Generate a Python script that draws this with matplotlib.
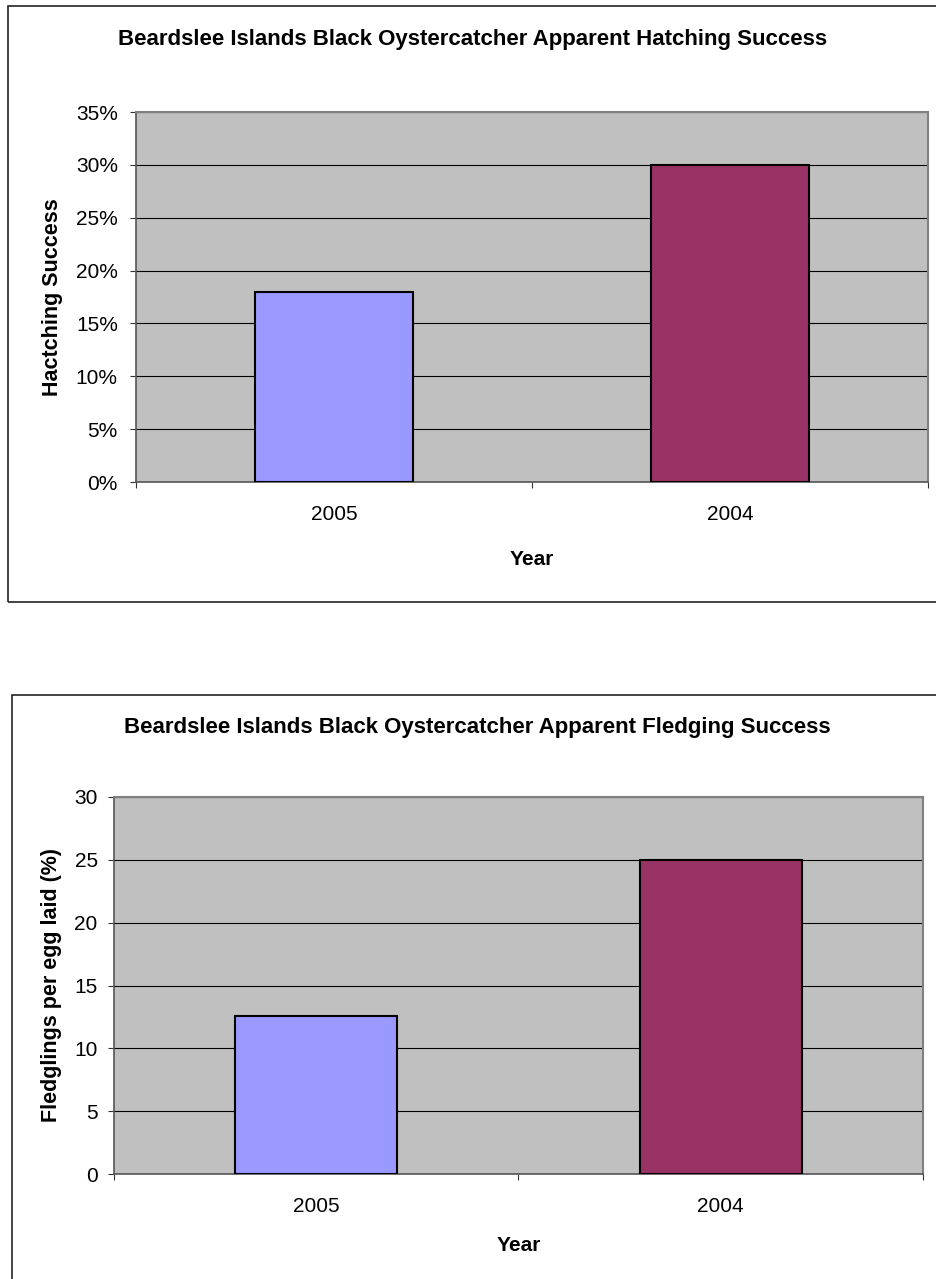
import matplotlib
matplotlib.use("Agg")
import matplotlib.pyplot as plt
from matplotlib.patches import Rectangle
from matplotlib.ticker import FuncFormatter, FixedLocator

plt.rcParams['font.family'] = ['Liberation Sans', 'DejaVu Sans']

W, H = 937, 1279

years = ["2005", "2004"]
bar_colors = ["#9999FF", "#993366"]

hatching_pct = [18, 30]        # apparent hatching success, %
fledging_pct = [12.6, 25]      # fledglings per egg laid, %

hatch_ticks = [0, 5, 10, 15, 20, 25, 30, 35]
fledge_ticks = [0, 5, 10, 15, 20, 25, 30]


def fx(px):
    return px / W


def fy(py):
    return 1 - py / H


def panel(fig, box, rect, values, ticks, fmt, title, ylabel, ylab_x,
          title_pos, year_y, ytick_pad):
    # outer chart frame
    bx, by_top, by_bot = box
    fig.add_artist(Rectangle((fx(bx), fy(by_bot)), 1.2, fy(by_top) - fy(by_bot),
                             transform=fig.transFigure, fill=False,
                             edgecolor="#222222", linewidth=1.2))

    left, top, right, bottom = rect
    ax = fig.add_axes([fx(left), fy(bottom), fx(right - left), (bottom - top) / H])
    ax.set_facecolor("#C0C0C0")

    x = range(len(values))
    ax.bar(x, values, width=0.4, color=bar_colors, edgecolor="black",
           linewidth=1.5, zorder=3)

    ax.set_xlim(-0.5, len(values) - 0.5)
    ax.set_ylim(ticks[0], ticks[-1])
    ax.yaxis.set_major_locator(FixedLocator(ticks))
    ax.yaxis.set_major_formatter(FuncFormatter(fmt))
    ax.grid(axis="y", color="black", linewidth=0.8, zorder=1)

    ax.set_xticks(list(x))
    ax.set_xticklabels(years)
    ax.set_xticks([-0.5, 0.5, 1.5], minor=True)
    ax.tick_params(axis="x", which="major", length=0, pad=16.5, labelsize=15)
    ax.tick_params(axis="x", which="minor", length=4.5, width=0.8,
                   direction="out", color="#333333")
    ax.tick_params(axis="y", length=4.5, width=0.8, pad=ytick_pad,
                   labelsize=15, color="#333333")

    for side in ("top", "right"):
        ax.spines[side].set_color("#808080")
        ax.spines[side].set_linewidth(1.5)
    for side in ("left", "bottom"):
        ax.spines[side].set_color("#555555")
        ax.spines[side].set_linewidth(1.2)

    fig.text(fx(title_pos[0]), fy(title_pos[1]), title, ha="center",
             va="baseline", fontsize=16, fontweight="bold")
    fig.text(fx((left + right) / 2), fy(year_y), "Year", ha="center",
             va="baseline", fontsize=15, fontweight="bold")
    fig.text(fx(ylab_x), fy((top + bottom) / 2), ylabel, ha="center",
             va="center", rotation=90, fontsize=15.5, fontweight="bold")
    return ax


fig = plt.figure(figsize=(W / 100, H / 100), dpi=100)

panel(fig, (8, 6, 602), (136, 112, 928, 482), hatching_pct, hatch_ticks,
      lambda v, p: f"{v:.0f}%",
      "Beardslee Islands Black Oystercatcher Apparent Hatching Success",
      "Hactching Success", 52.5, (472.5, 45), 565, 8.6)

panel(fig, (12, 695, 1400), (114, 797, 923, 1174), fledging_pct, fledge_ticks,
      lambda v, p: f"{v:.0f}",
      "Beardslee Islands Black Oystercatcher Apparent Fledging Success",
      "Fledglings per egg laid (%)", 52, (477.5, 733), 1251, 7.2)

fig.savefig("out.png", dpi=100)
